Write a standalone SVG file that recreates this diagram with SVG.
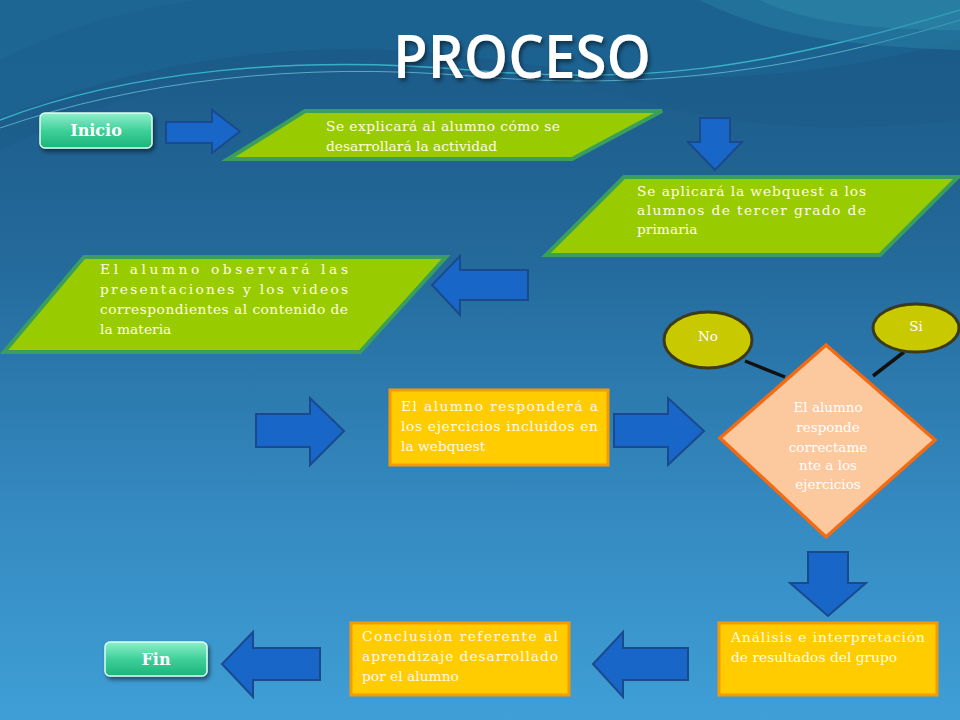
<svg xmlns="http://www.w3.org/2000/svg" width="960" height="720" viewBox="0 0 960 720">
<defs>
<linearGradient id="bg" x1="0" y1="0" x2="0" y2="1">
<stop offset="0" stop-color="#1a5784"/>
<stop offset="0.35" stop-color="#23699a"/>
<stop offset="0.7" stop-color="#3489c0"/>
<stop offset="1" stop-color="#3f9fd6"/>
</linearGradient>
<linearGradient id="btn" x1="0" y1="0" x2="0" y2="1">
<stop offset="0" stop-color="#8ff0cc"/>
<stop offset="0.5" stop-color="#3fd09a"/>
<stop offset="1" stop-color="#1cb479"/>
</linearGradient>
<filter id="sh" x="-10%" y="-20%" width="130%" height="150%">
<feDropShadow dx="2" dy="3" stdDeviation="2" flood-color="#000" flood-opacity="0.5"/>
</filter>
<style>
.par{fill:#99cc00;stroke:#3a9e5c;stroke-width:4;stroke-linejoin:miter}
.box{fill:#ffcc00;stroke:#f59a00;stroke-width:3}
.arr{fill:#1766c8;stroke:#1a4a8c;stroke-width:2;stroke-linejoin:miter}
.t{font-family:"DejaVu Serif","Liberation Serif",serif;font-size:13.8px;fill:#fffbe8}
.btn{fill:url(#btn);stroke:#d9fff0;stroke-width:1.5}
.bt{font-family:"DejaVu Serif","Liberation Serif",serif;font-size:16px;font-weight:bold;fill:#ffffff;text-anchor:middle}
.ell{fill:#c9c900;stroke:#3b3a1c;stroke-width:3}
.lnk{stroke:#111;stroke-width:3.5;fill:none}
.dt{font-family:"DejaVu Serif","Liberation Serif",serif;font-size:13.5px;fill:#ffffff;text-anchor:middle}
</style>
</defs>
<rect width="960" height="720" fill="url(#bg)"/>
<path d="M0,60 C60,30 120,10 200,0 L0,0 Z" fill="#2a7fae" opacity="0.5"/>
<path d="M0,150 C150,80 300,40 470,60 C620,80 700,150 960,120 L960,0 L0,0 Z" fill="#1a5c8a" opacity="0.6"/>
<path d="M0,118 C120,70 260,40 420,52 C560,62 700,110 960,40 L960,0 L0,0 Z" fill="#1d6a98" opacity="0.5"/>
<path d="M0,120 C130,70 300,55 470,70 C640,85 760,70 960,10" stroke="#3fc6d6" stroke-width="1.5" fill="none" opacity="0.8"/>
<path d="M0,128 C140,80 300,62 470,76 C640,90 780,75 960,20" stroke="#7fe0e8" stroke-width="1" fill="none" opacity="0.6"/>
<path d="M700,0 C760,30 820,45 960,50 L960,0 Z" fill="#2a86a8" opacity="0.45"/>
<path d="M760,0 C800,20 860,30 960,30 L960,0 Z" fill="#3499b0" opacity="0.35"/>
<text x="522" y="78" text-anchor="middle" font-family="'Open Sans','DejaVu Sans',sans-serif" font-weight="600" font-size="60" fill="#ffffff" textLength="258" lengthAdjust="spacingAndGlyphs" filter="url(#sh)">PROCESO</text>

<g id="connectors">
<path class="arr" d="M166,122 H212 V110 L240,131.5 L212,153 V143 H166 Z"/>
<path class="arr" d="M700,118 H730 V142 H742 L715,170 L688,142 H700 Z"/>
<path class="arr" d="M528,270 H460 V256 L432,285 L460,315 V300 H528 Z"/>
<path class="arr" d="M256,414 H310 V398 L344,431 L310,465 V447 H256 Z"/>
<path class="arr" d="M614,414 H668 V398 L704,431 L668,465 V447 H614 Z"/>
<path class="arr" d="M808,552 H848 V583 H866 L828,616 L790,583 H808 Z"/>
<path class="arr" d="M688,648 H623 V632 L593,664 L623,697 V680 H688 Z"/>
<path class="arr" d="M320,648 H253 V632 L222,664 L253,697 V680 H320 Z"/>
<line class="lnk" x1="745" y1="361" x2="785" y2="377"/>
<line class="lnk" x1="873" y1="376" x2="904" y2="352"/>
</g>

<g id="inicio">
<rect class="btn" x="40" y="113" width="112" height="35" rx="5" filter="url(#sh)"/>
<text class="bt" x="96" y="136">Inicio</text>
</g>

<g id="explicar">
<polygon class="par" points="305,111 662,111 572,159 228,159"/>
<text class="t" x="326" y="131" textLength="234" lengthAdjust="spacing">Se explicará al alumno cómo se</text>
<text class="t" x="326" y="151">desarrollará la actividad</text>
</g>

<g id="aplicar">
<polygon class="par" points="624,177 958,177 880,255 546,255"/>
<text class="t" x="637" y="196" textLength="229" lengthAdjust="spacing">Se aplicará la webquest a los</text>
<text class="t" x="637" y="215" textLength="229" lengthAdjust="spacing">alumnos de tercer grado de</text>
<text class="t" x="637" y="234">primaria</text>
</g>

<g id="observar">
<polygon class="par" points="84,257 446,257 360,352 4,352"/>
<text class="t" x="100" y="274" textLength="248" lengthAdjust="spacing">El alumno observará las</text>
<text class="t" x="100" y="294" textLength="248" lengthAdjust="spacing">presentaciones y los videos</text>
<text class="t" x="100" y="314" textLength="248" lengthAdjust="spacing">correspondientes al contenido de</text>
<text class="t" x="100" y="334">la materia</text>
</g>

<g id="responder">
<rect class="box" x="390" y="390" width="218" height="75"/>
<text class="t" x="401" y="411" textLength="197" lengthAdjust="spacing">El alumno responderá a</text>
<text class="t" x="401" y="431" textLength="197" lengthAdjust="spacing">los ejercicios incluidos en</text>
<text class="t" x="401" y="451">la webquest</text>
</g>

<g id="decision">
<polygon points="826,345 935,440 826,537 720,438" fill="#fcc89e" stroke="#f26b12" stroke-width="3.5"/>
<text class="dt" x="828" y="412">El alumno</text>
<text class="dt" x="828" y="432">responde</text>
<text class="dt" x="828" y="452">correctame</text>
<text class="dt" x="828" y="470">nte a los</text>
<text class="dt" x="828" y="489">ejercicios</text>
</g>

<g id="no">
<ellipse class="ell" cx="708" cy="340" rx="44" ry="28"/>
<text class="dt" x="708" y="341">No</text>
</g>

<g id="si">
<ellipse class="ell" cx="916" cy="328" rx="43" ry="24"/>
<text class="dt" x="916" y="331">Si</text>
</g>

<g id="analisis">
<rect class="box" x="719" y="623" width="218" height="72"/>
<text class="t" x="731" y="642" textLength="194" lengthAdjust="spacing">Análisis e interpretación</text>
<text class="t" x="731" y="662">de resultados del grupo</text>
</g>

<g id="conclusion">
<rect class="box" x="351" y="623" width="218" height="72"/>
<text class="t" x="362" y="641" textLength="196" lengthAdjust="spacing">Conclusión referente al</text>
<text class="t" x="362" y="661" textLength="196" lengthAdjust="spacing">aprendizaje desarrollado</text>
<text class="t" x="362" y="681">por el alumno</text>
</g>

<g id="fin">
<rect class="btn" x="105" y="642" width="102" height="34" rx="5" filter="url(#sh)"/>
<text class="bt" x="156" y="665">Fin</text>
</g>
</svg>
